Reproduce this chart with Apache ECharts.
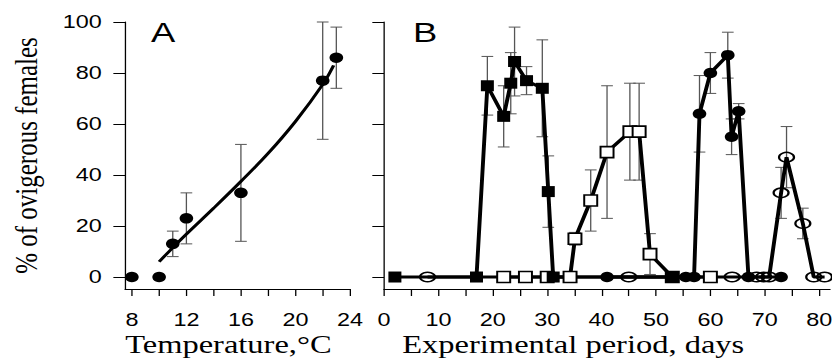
<!DOCTYPE html>
<html>
<head>
<meta charset="utf-8">
<script src="https://cdn.jsdelivr.net/npm/echarts@6/dist/echarts.min.js"></script>
<style>
html, body { margin: 0; padding: 0; background: #fff; overflow: hidden; }
#wrap { width: 832px; height: 358px; overflow: hidden; }
/* the source figure is stretched sideways, so draw narrow and scale */
#chart { width: 640px; height: 358px; transform: scaleX(1.3); transform-origin: 0 0; }
</style>
</head>
<body>
<div id="wrap"><div id="chart"></div></div>
<script>
// panel A: temperature
const tempC = [8, 10, 11, 12, 16, 22, 23];
const ovigA = [0, 0, 13, 23, 33, 77, 86];
const errA = [0, 0, 5, 10, 19, 23, 12];
const fitTemp = [10, 11, 12, 14, 16, 18, 20, 22, 22.8];
const fitPct = [6, 11.5, 16.8, 27, 37.5, 48.5, 61, 75.5, 83];

// panel B: experimental period
const fsDay = [2, 17, 19, 22, 23.3, 24, 26.2, 29.1, 30.2, 31.1, 53];
const fsPct = [0, 0, 75, 63, 76, 84.5, 77, 74, 33.5, 0, 0];
const fsErr = [0, 0, 11.5, 12, 12, 13.5, 5.5, 19, 14, 0, 0];

const osDay = [22, 26, 30, 34.2, 35.1, 38, 41, 45.2, 46.9, 48.9, 53, 60];
const osPct = [0, 0, 0, 0, 15, 30, 49, 57, 57, 9, 0, 0];
const osErr = [0, 0, 0, 0, 2.5, 12, 26, 19, 19, 8, 0, 0];

const fcDay = [41, 55.5, 57, 58, 60, 63.2, 63.9, 65.2, 67, 73];
const fcPct = [0, 0, 0, 64, 80, 87, 55, 65, 0, 0];
const fcErr = [0, 0, 0, 15, 8, 9, 7, 3, 0, 0];

const ocDay = [8, 45, 64, 68.5, 69.8, 70.8, 73, 74, 77, 79, 81];
const ocPct = [0, 0, 0, 0, 0, 0, 33, 47, 21, 0, 0];
const ocErr = [0, 0, 0, 0, 0, 0, 10, 12, 6, 0, 0];

const tempTicks = [8, 10, 12, 14, 16, 18, 20, 22, 24];
const tempLabels = [8, 12, 16, 20, 24];
const dayTicks = [0, 5, 10, 15, 20, 25, 30, 35, 40, 45, 50, 55, 60, 65, 70, 75, 80];
const dayLabels = [0, 10, 20, 30, 40, 50, 60, 70, 80];
const pctTicks = [0, 20, 40, 60, 80, 100];

const zip = (xs, ys) => xs.map((x, i) => [x, ys[i]]);
const bars = (xs, ys, es) => xs
  .map((x, i) => [x, ys[i] - es[i], ys[i] + es[i], es[i]])
  .filter(d => d[3] > 0);

function errRender(params, api) {
  const x = api.value(0);
  const top = api.coord([x, api.value(2)]);
  const bot = api.coord([x, api.value(1)]);
  const cap = 4.5;
  const style = { stroke: '#555', lineWidth: 1 };
  return {
    type: 'group',
    children: [
      { type: 'line', shape: { x1: top[0], y1: top[1], x2: bot[0], y2: bot[1] }, style },
      { type: 'line', shape: { x1: top[0] - cap, y1: top[1], x2: top[0] + cap, y2: top[1] }, style },
      { type: 'line', shape: { x1: bot[0] - cap, y1: bot[1], x2: bot[0] + cap, y2: bot[1] }, style }
    ]
  };
}
function errSeries(idx, data) {
  return {
    type: 'custom', xAxisIndex: idx, yAxisIndex: idx, renderItem: errRender,
    encode: { x: 0, y: [1, 2] }, data: data, z: 1, silent: true
  };
}

const labelFont = { fontFamily: 'Liberation Sans', fontSize: 18, color: '#000' };
const titleFont = { fontFamily: 'Liberation Serif', fontSize: 25, color: '#000' };
const axisLine = { show: true, onZero: false, lineStyle: { color: '#000', width: 1 } };

function xAxis(idx, min, max, ticks, labels, name, pad) {
  return {
    type: 'value', gridIndex: idx, min: min, max: max,
    axisLine: axisLine,
    axisTick: { show: true, length: 7, customValues: ticks, lineStyle: { color: '#000' } },
    axisLabel: Object.assign({ margin: 22, customValues: labels }, labelFont),
    splitLine: { show: false },
    name: name, nameLocation: 'middle', nameGap: 43, nameMoveOverlap: false,
    nameTextStyle: Object.assign({ padding: pad }, titleFont)
  };
}
function yAxis(idx, showLabels) {
  const ax = {
    type: 'value', gridIndex: idx, min: -4.7, max: 100,
    axisLine: axisLine,
    axisTick: { show: true, length: 9, customValues: pctTicks, lineStyle: { color: '#000' } },
    axisLabel: Object.assign({ show: showLabels, margin: 18, customValues: pctTicks }, labelFont),
    splitLine: { show: false }
  };
  if (showLabels) {
    ax.name = '% of ovigerous females';
    ax.nameLocation = 'middle';
    ax.nameGap = 64;
    ax.nameMoveOverlap = false;
    ax.nameTextStyle = titleFont;
  }
  return ax;
}

function lineSeries(xs, ys, symbol, size, filled) {
  return {
    type: 'line', xAxisIndex: 1, yAxisIndex: 1, data: zip(xs, ys),
    symbol: symbol, symbolSize: size, showSymbol: true,
    lineStyle: { color: '#000', width: 3 },
    itemStyle: filled
      ? { color: '#000', borderColor: '#000', borderWidth: 0 }
      : { color: symbol === 'circle' ? 'rgba(0,0,0,0)' : '#fff', borderColor: '#000', borderWidth: 1.6 },
    emphasis: { disabled: true }, animation: false, z: 3
  };
}

const chart = echarts.init(document.getElementById('chart'), null, { renderer: 'svg' });
chart.setOption({
  animation: false,
  backgroundColor: '#fff',
  grid: [
    { left: 96.2, top: 22, width: 173, height: 267, outerBoundsMode: 'none' },
    { left: 295.4, top: 22, width: 343.1, height: 267, outerBoundsMode: 'none' }
  ],
  xAxis: [
    xAxis(0, 7.5, 24, tempTicks, tempLabels, 'Temperature,°C', [0, 14, 0, 0]),
    xAxis(1, 0, 82, dayTicks, dayLabels, 'Experimental period, days', [0, 52, 0, 0])
  ],
  yAxis: [yAxis(0, true), yAxis(1, false)],
  graphic: [
    { type: 'text', x: 125.4, y: 33, style: { text: 'A', font: '28px "Liberation Sans"', fill: '#000', align: 'center', verticalAlign: 'middle' } },
    { type: 'text', x: 327, y: 33, style: { text: 'B', font: '28px "Liberation Sans"', fill: '#000', align: 'center', verticalAlign: 'middle' } }
  ],
  series: [
    errSeries(0, bars(tempC, ovigA, errA)),
    {
      type: 'line', xAxisIndex: 0, yAxisIndex: 0, data: zip(fitTemp, fitPct),
      smooth: 0.4, showSymbol: false, lineStyle: { color: '#000', width: 2.6 }, z: 2
    },
    {
      type: 'scatter', xAxisIndex: 0, yAxisIndex: 0, data: zip(tempC, ovigA),
      symbol: 'circle', symbolSize: 10.5, itemStyle: { color: '#000', opacity: 1 }, z: 3
    },
    errSeries(1, bars(fsDay, fsPct, fsErr)),
    errSeries(1, bars(osDay, osPct, osErr)),
    errSeries(1, bars(fcDay, fcPct, fcErr)),
    errSeries(1, bars(ocDay, ocPct, ocErr)),
    lineSeries(ocDay, ocPct, 'circle', [11.5, 9.5], false),
    lineSeries(osDay, osPct, 'rect', [10, 11], false),
    lineSeries(fsDay, fsPct, 'rect', [10, 11], true),
    lineSeries(fcDay, fcPct, 'circle', [10.5, 10.5], true)
  ]
});
</script>
</body>
</html>
